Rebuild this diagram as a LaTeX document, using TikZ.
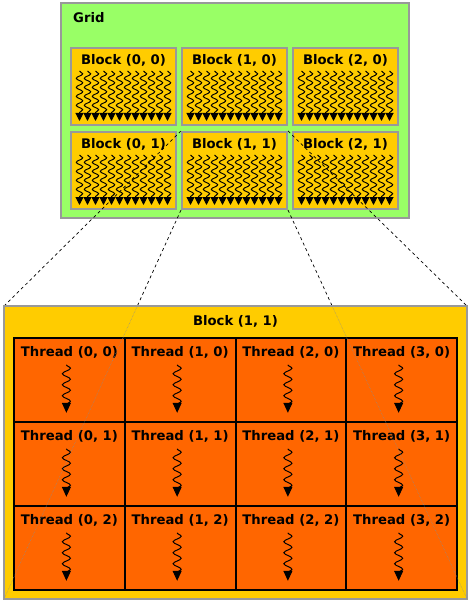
\documentclass[tikz,border=0pt]{standalone}
\usepackage{fontspec}
\setmainfont{DejaVu Sans}
\usetikzlibrary{arrows.meta,positioning,calc,decorations.pathmorphing}

\definecolor{gridgreen}{HTML}{99FF66}
\definecolor{blockyellow}{HTML}{FFCC00}
\definecolor{threadorange}{HTML}{FF6600}
\definecolor{edgegray}{HTML}{999999}

\tikzset{
  gridbox/.style={draw=edgegray, line width=2pt, fill=gridgreen},
  blockbox/.style={draw=edgegray, line width=2pt, fill=blockyellow,
    minimum width=105pt, minimum height=77pt, inner sep=0pt},
  threadbox/.style={fill=threadorange,
    minimum width=110.75pt, minimum height=84pt, inner sep=0pt},
  lbl/.style={font=\bfseries\fontsize{13.2}{16}\selectfont, inner sep=0pt},
  wave/.style={decorate, line width=1pt,
    decoration={snake, amplitude=3.2pt, segment length=9pt, post length=6pt},
    -{Triangle[length=8pt,width=8pt]}},
  bigwave/.style={decorate, line width=1pt,
    decoration={snake, amplitude=4pt, segment length=11pt, post length=8pt},
    -{Triangle[length=10pt,width=9pt]}},
  link/.style={dashed, line width=0.7pt},
  linkfaint/.style={densely dotted, line width=0.5pt, black!45}
}

\begin{document}
\begin{tikzpicture}[x=1pt,y=-1pt]
  \useasboundingbox (0,0) rectangle (471,604);

  % grid of blocks
  \draw[gridbox] (61,3) rectangle (409,218);
  \node[lbl, anchor=west] (gridlbl) at (73,18) {Grid};
  \foreach \c in {0,1,2} {
    \foreach \r in {0,1} {
      \node[blockbox] (b-\c-\r) at (123.5+111*\c, 86.5+84*\r) {};
      \node[lbl, below=7pt of b-\c-\r.north] {Block (\c, \r)};
      \foreach \k in {0,...,11}
        \draw[wave] ($(b-\c-\r.north)+(-44+8*\k,24)$) -- ($(b-\c-\r.south)+(-44+8*\k,-5)$);
    }
  }

  % zoom lines
  \coordinate (big-nw) at (4,306);   \coordinate (big-ne) at (467,306);
  \coordinate (big-sw) at (4,599);   \coordinate (big-se) at (467,599);
  \draw[link] (b-1-1.north west) -- (big-nw);
  \draw[link] (b-1-1.north east) -- (big-ne);
  \draw[link] (b-1-1.south west) -- (big-sw);
  \draw[link] (b-1-1.south east) -- (big-se);

  % block (1, 1) in detail
  \draw[gridbox, fill=blockyellow] (big-nw) rectangle (big-se);
  \node[lbl] (biglbl) at (235.5,321) {Block (1, 1)};
  \foreach \c in {0,...,3} {
    \foreach \r in {0,1,2} {
      \node[threadbox] (t-\c-\r) at (69.4+110.75*\c, 380+84*\r) {};
      \node[lbl, below=8pt of t-\c-\r.north] {Thread (\c, \r)};
      \draw[bigwave] ($(t-\c-\r.north)+(-3,27)$) -- ($(t-\c-\r.north)+(-3,75)$);
    }
  }
  \foreach \c in {0,...,3}
    \foreach \r in {0,1,2}
      \draw[black, line width=1.6pt] (t-\c-\r.north west) rectangle (t-\c-\r.south east);
  \draw[black, line width=2.4pt] (t-0-0.north west) rectangle (t-3-2.south east);

  \begin{scope}
    \clip (big-nw) rectangle (big-se);
    \draw[linkfaint] (b-1-1.south west) -- (big-sw);
    \draw[linkfaint] (b-1-1.south east) -- (big-se);
  \end{scope}
\end{tikzpicture}
\end{document}
